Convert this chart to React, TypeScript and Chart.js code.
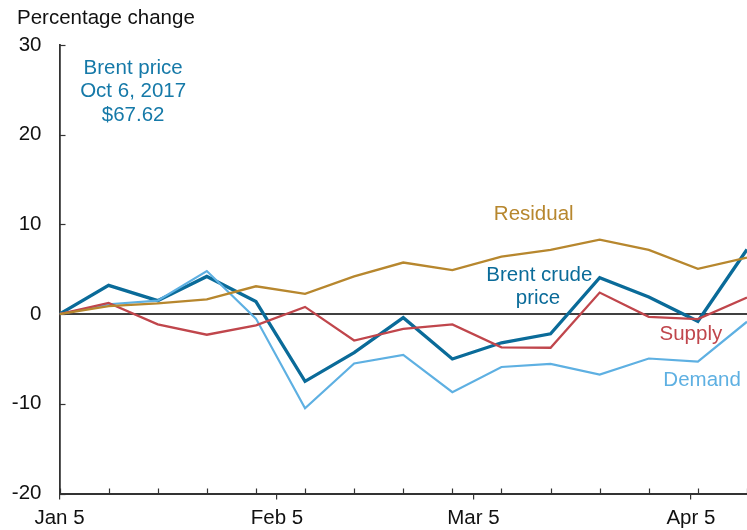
import React, { useEffect, useRef } from "react";
import { Chart, registerables } from "chart.js";

Chart.register(...registerables);

// Weekly observation dates (Fridays, 2018)
const dates = [
  "2018-01-05", "2018-01-12", "2018-01-19", "2018-01-26", "2018-02-02",
  "2018-02-09", "2018-02-16", "2018-02-23", "2018-03-02", "2018-03-09",
  "2018-03-16", "2018-03-23", "2018-03-30", "2018-04-06", "2018-04-13",
];

// Percentage change since Jan 5
const brent = [0, 3.2, 1.5, 4.2, 1.4, -7.5, -4.3, -0.4, -5.0, -3.2, -2.2, 4.05, 1.9, -0.8, 7.2];
const demand = [0, 1.1, 1.5, 4.8, -0.5, -10.5, -5.5, -4.55, -8.7, -5.9, -5.55, -6.75, -4.95, -5.3, -0.85];
const supply = [0, 1.25, -1.15, -2.3, -1.25, 0.8, -2.95, -1.65, -1.15, -3.7, -3.75, 2.4, -0.3, -0.55, 1.85];
const residual = [0, 0.9, 1.2, 1.65, 3.1, 2.25, 4.2, 5.75, 4.9, 6.4, 7.15, 8.3, 7.15, 5.05, 6.3];

const tickDates = ["2018-01-05", "2018-02-05", "2018-03-05", "2018-04-05"];
const tickLabels = ["Jan 5", "Feb 5", "Mar 5", "Apr 5"];
const yTicks = [-20, -10, 0, 10, 20, 30];

const yTitle = "Percentage change";
const noteLines = ["Brent price", "Oct 6, 2017", "$67.62"];

const C_BRENT = "#0a6b99";
const C_NOTE = "#1579a8";
const C_DEMAND = "#5eb0e2";
const C_SUPPLY = "#c0464c";
const C_RESID = "#b7872e";

const FONT = "'Liberation Sans', Arial, Helvetica, sans-serif";
const FSIZE = 20.5;

const dayOf = (s: string) =>
  Math.round((Date.parse(s + "T00:00:00Z") - Date.parse(dates[0] + "T00:00:00Z")) / 86400000);

const days = dates.map(dayOf);
const tickDays = tickDates.map(dayOf);

// Inline label anchors in data units: [text, day, value, color]
const seriesLabels: [string, number, number, string][] = [
  ["Residual", 67.6, 11.15, C_RESID],
  ["Brent crude", 68.4, 4.35, C_BRENT],
  ["price", 68.2, 1.8, C_BRENT],
  ["Supply", 90.0, -2.25, C_SUPPLY],
  ["Demand", 91.6, -7.35, C_DEMAND],
];
const noteAnchor = { day: 10.5, values: [27.4, 24.85, 22.2] };

const toXY = (arr: number[]) => arr.map((v, i) => ({ x: days[i], y: v }));

const decor = {
  id: "decor",
  beforeDatasetsDraw(chart: any) {
    const { ctx, chartArea, scales } = chart;
    const x = scales.x;
    const y = scales.y;
    ctx.save();
    // zero line
    ctx.strokeStyle = "#000";
    ctx.lineWidth = 1.5;
    const y0 = y.getPixelForValue(0);
    ctx.beginPath();
    ctx.moveTo(chartArea.left, y0);
    ctx.lineTo(chartArea.right, y0);
    ctx.stroke();
    // inside y ticks
    ctx.strokeStyle = "#333";
    ctx.lineWidth = 1.2;
    yTicks.forEach((v) => {
      const py = Math.round(y.getPixelForValue(v)) + 0.5;
      ctx.beginPath();
      ctx.moveTo(chartArea.left, py);
      ctx.lineTo(chartArea.left + 6, py);
      ctx.stroke();
    });
    // inside weekly x ticks
    days.forEach((d) => {
      const px = Math.round(x.getPixelForValue(d)) + 0.5;
      ctx.beginPath();
      ctx.moveTo(px, chartArea.bottom);
      ctx.lineTo(px, chartArea.bottom - 5);
      ctx.stroke();
    });
    ctx.restore();
  },
  afterDraw(chart: any) {
    const { ctx, scales } = chart;
    const x = scales.x;
    const y = scales.y;
    ctx.save();
    ctx.font = `${FSIZE}px ${FONT}`;
    ctx.textBaseline = "middle";
    // axis title
    ctx.fillStyle = "#111";
    ctx.textAlign = "left";
    ctx.fillText(yTitle, 17, 18);
    // note
    ctx.textAlign = "center";
    ctx.fillStyle = C_NOTE;
    noteLines.forEach((t, i) => {
      ctx.fillText(t, x.getPixelForValue(noteAnchor.day), y.getPixelForValue(noteAnchor.values[i]));
    });
    // series labels
    seriesLabels.forEach(([t, d, v, c]) => {
      ctx.fillStyle = c;
      ctx.fillText(t, x.getPixelForValue(d), y.getPixelForValue(v));
    });
    ctx.restore();
  },
};

export default function App() {
  const ref = useRef<HTMLCanvasElement | null>(null);

  useEffect(() => {
    if (!ref.current) return;
    const chart = new Chart(ref.current, {
      type: "line",
      data: {
        datasets: [
          { label: "Residual", data: toXY(residual), borderColor: C_RESID, borderWidth: 2.3 },
          { label: "Supply", data: toXY(supply), borderColor: C_SUPPLY, borderWidth: 2.3 },
          { label: "Demand", data: toXY(demand), borderColor: C_DEMAND, borderWidth: 2.2 },
          { label: "Brent crude price", data: toXY(brent), borderColor: C_BRENT, borderWidth: 3.3 },
        ].map((d) => ({ ...d, pointRadius: 0, tension: 0, fill: false, borderJoinStyle: "miter" as const })),
      },
      options: {
        responsive: false,
        animation: false,
        events: [],
        layout: { padding: { top: 45, right: 0, bottom: 0, left: 0 } },
        plugins: { legend: { display: false }, tooltip: { enabled: false }, title: { display: false } },
        scales: {
          x: {
            type: "linear",
            min: 0,
            max: days[days.length - 1],
            afterFit: (s: any) => {
              s.height = 36.5;
            },
            afterBuildTicks: (s: any) => {
              s.ticks = tickDays.map((v) => ({ value: v }));
            },
            ticks: {
              autoSkip: false,
              maxRotation: 0,
              padding: 7,
              color: "#111",
              font: { family: FONT, size: FSIZE },
              callback: (v: any) => tickLabels[tickDays.indexOf(Number(v))] ?? "",
            },
            grid: { display: true, drawOnChartArea: false, drawTicks: true, tickLength: 6, color: "#333", lineWidth: 1.2 },
            border: { display: true, color: "#333", width: 2 },
          },
          y: {
            type: "linear",
            min: -20,
            max: 30,
            afterFit: (s: any) => {
              s.width = 59.5;
            },
            afterBuildTicks: (s: any) => {
              s.ticks = yTicks.map((v) => ({ value: v }));
            },
            ticks: {
              padding: 18,
              color: "#111",
              font: { family: FONT, size: FSIZE },
              callback: (v: any) => String(v),
            },
            grid: { display: false, drawTicks: false },
            border: { display: true, color: "#333", width: 1.8 },
          },
        },
      },
      plugins: [decor],
    });
    return () => chart.destroy();
  }, []);

  return (
    <div style={{ position: "fixed", left: 0, top: 0, width: 747, height: 530, background: "#fff" }}>
      <canvas ref={ref} width={747} height={530} style={{ display: "block" }} />
    </div>
  );
}
